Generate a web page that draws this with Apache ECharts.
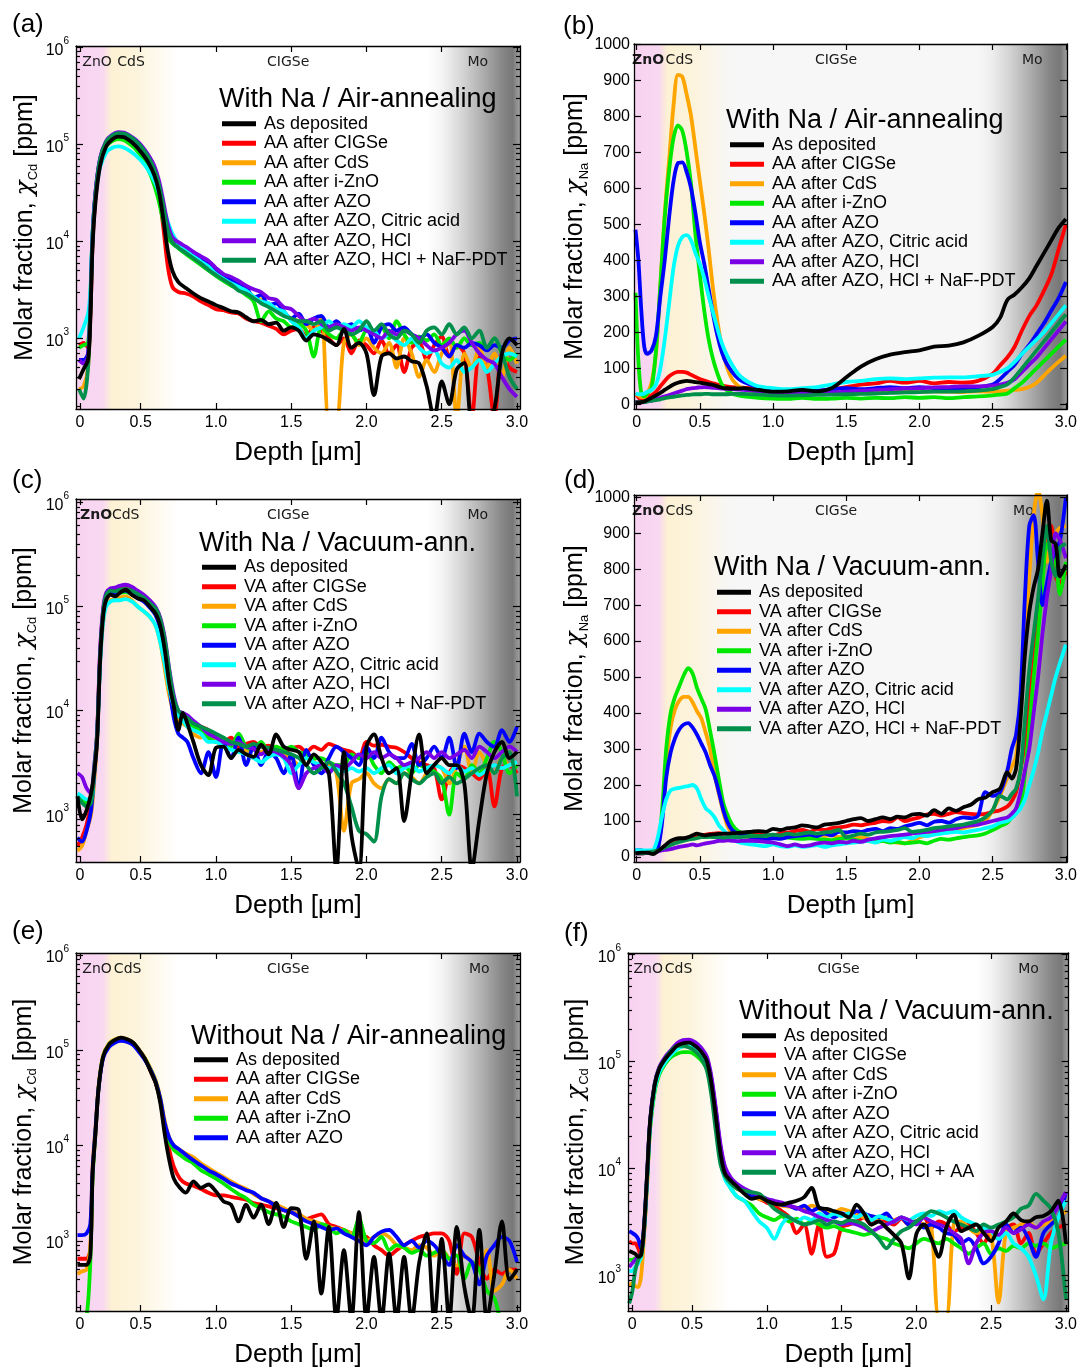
<!DOCTYPE html>
<html><head><meta charset="utf-8">
<script src="https://cdn.jsdelivr.net/npm/echarts@6/dist/echarts.min.js"></script>
<style>html,body{margin:0;padding:0;background:#fff}#c{width:1080px;height:1371px}</style>
</head><body><div id="c"></div>
<script>
// ---------------- tick labels ----------------
const xTickLabels = ['0','0.5','1.0','1.5','2.0','2.5','3.0'];
const logTickLabels = [1e3,1e4,1e5,1e6];
const linTickLabels = [0,100,200,300,400,500,600,700,800,900,1000];

// ---------------- series names ----------------
const namesAA = ['As deposited','AA after CIGSe','AA after CdS','AA after i-ZnO','AA after AZO','AA after AZO, Citric acid','AA after AZO, HCl','AA after AZO, HCl + NaF-PDT'];
const namesVA = ['As deposited','VA after CIGSe','VA after CdS','VA after i-ZnO','VA after AZO','VA after AZO, Citric acid','VA after AZO, HCl','VA after AZO, HCl + NaF-PDT'];
const namesAAnoNa = ['As deposited','AA after CIGSe','AA after CdS','AA after i-ZnO','AA after AZO'];
const namesVAnoNa = ['As deposited','VA after CIGSe','VA after CdS','VA after i-ZnO','VA after AZO','VA after AZO, Citric acid','VA after AZO, HCl','VA after AZO, HCl + AA'];

// ================= Panel (a): Cd, with Na, air-annealing =================
const depthA = [0.09,0.12,0.15,0.165,0.18,0.2,0.23,0.27,0.31,0.35,0.39,0.43,0.47,0.51,0.55,0.59,0.62,0.65,0.68,0.71,0.75,0.8,
0.85,0.9,0.95,1.0,1.05,1.1,1.15,1.2,1.25,1.3,1.35,
1.4,1.45,1.5,1.55,1.6,1.65,1.7,1.75,1.8,1.85,1.9,
1.95,2.0,2.05,2.1,2.15,2.2,2.25,2.3,2.35,2.4,2.45,
2.5,2.55,2.6,2.65,2.7,2.75,2.8,2.85,2.9,2.95,3.0];
const cdA_asDep = [380,480,600,1500,9000,26000,60000,95000,112000,120000,118000,108000,95000,80000,65000,48000,33000,17000,8000,5000,3800,3300,
2900,2600,2400,2200,2050,1900,1850,1650,1500,1550,1400,
1450,1200,1300,1200,950,1100,1050,950,850,1250,800,
900,700,260,650,700,620,650,580,550,320,150,
360,210,480,560,150,150,150,190,700,1000,850];
const cdA_cigse = [850,900,800,1600,9500,28000,65000,100000,118000,125000,122000,112000,100000,85000,68000,50000,32000,14000,5500,3400,3000,2900,
2700,2400,2200,2000,1950,1850,1800,1600,1500,1450,1350,
1250,1100,1200,1250,1050,1300,1200,1000,850,1000,700,
950,850,700,950,700,850,450,800,900,600,850,
1050,650,850,700,150,650,500,150,700,500,450];
const cdA_cds = [300,320,500,1800,11000,32000,70000,105000,120000,127000,125000,115000,102000,88000,70000,52000,36000,22000,13000,10000,8800,7800,
6900,6000,5300,4700,4200,3800,3500,3100,2700,2500,2200,
2000,1800,1600,1500,1400,1200,1600,150,150,900,1100,
850,1000,800,700,900,500,1000,700,400,600,450,
700,900,150,700,500,800,500,700,400,800,550];
const cdA_izno = [800,850,900,2500,12000,30000,65000,95000,108000,113000,110000,100000,88000,72000,55000,38000,26000,16000,11000,9500,8500,7400,
6500,5700,5000,4400,3900,3500,3200,2800,2400,1500,1900,
1600,1500,1300,1400,1200,650,1300,1100,1000,1200,1100,
900,1200,1100,1300,1000,1500,1100,900,1050,950,1100,
850,1000,800,1000,850,900,800,1000,700,600,700];
const cdA_azo = [600,600,700,2200,11500,32000,70000,105000,122000,130000,128000,118000,105000,90000,72000,54000,38000,23000,13500,10500,9500,8500,
7500,6500,5800,4800,4500,4000,3600,3400,2600,2800,2200,
2300,1900,1600,1800,1400,1600,1700,1300,1500,1300,1400,
1200,1300,900,1300,1400,1200,1300,1100,1000,1100,900,
800,650,850,800,900,850,750,850,800,950,1000];
const cdA_citric = [1000,1300,1800,3000,12000,30000,58000,82000,92000,95000,92000,85000,76000,66000,54000,42000,32000,23000,16000,12000,9500,8000,
7000,6200,5500,4600,4100,3700,3400,3100,2700,2400,2300,
2000,1900,1500,1300,1000,1200,1300,1500,1300,1400,1300,
1500,1300,1200,1000,1100,950,850,1000,800,700,750,
550,500,600,450,500,600,450,550,650,700,650];
const cdA_hcl = [600,550,650,2000,11000,33000,72000,108000,125000,133000,132000,122000,110000,95000,78000,60000,43000,26000,15000,11000,9800,8800,
7800,7000,6300,5300,4600,4300,3900,3500,3200,3000,2600,
2500,2100,2000,1700,1500,1600,1400,1300,1400,1300,1200,
1300,1200,1100,1000,1200,1100,1200,1100,1000,850,750,
800,900,1100,1200,900,700,600,550,400,300,250];
const cdA_naf = [300,240,500,1800,10000,31000,70000,106000,122000,130000,129000,120000,107000,92000,74000,55000,39000,23000,13000,9800,8600,7600,
6700,5900,5100,4500,4000,3600,3100,2900,2600,2300,2100,
1900,1700,1600,1500,1500,1400,1500,1200,1300,1200,1100,
1200,1500,1200,1400,1100,1000,1200,1100,900,1200,1300,
1100,1400,1100,1300,1000,1200,800,1000,700,400,300];

// ================= Panel (b): Na, with Na, air-annealing =================
const depthB = [0.06,0.08,0.10,0.12,0.14,0.17,0.20,0.23,0.26,0.29,0.32,0.35,0.38,0.41,0.44,0.47,0.50,0.53,0.56,0.59,0.62,0.65,0.68,0.72,0.76,0.80,0.85,0.90,
1.0,1.1,1.2,1.3,1.4,1.5,1.6,1.7,1.8,1.9,2.0,2.1,2.2,2.3,2.4,
2.5,2.55,2.6,2.65,2.7,2.75,2.8,2.85,2.9,2.95,3.0];
const naB_asDep = [5,5,6,8,12,18,25,32,40,48,55,60,63,65,64,62,60,58,56,54,50,46,45,44,44,45,42,40,
35,36,40,36,45,75,105,125,138,145,150,160,163,172,190,
215,240,290,305,325,350,385,420,455,490,515];
const naB_cigse = [30,20,12,12,18,25,35,50,65,78,86,90,90,88,82,76,70,66,62,58,55,52,50,48,47,46,45,42,
38,36,40,38,42,48,55,58,65,60,65,58,62,60,65,
85,108,130,160,205,245,275,315,360,430,500];
const naB_cds = [30,25,20,20,30,60,140,330,530,680,830,915,910,860,800,710,620,530,430,320,230,160,110,70,52,43,38,36,
34,33,35,33,32,34,35,34,36,35,34,36,35,34,36,
35,36,38,40,42,48,60,80,100,118,135];
const naB_izno = [310,120,30,22,30,45,150,330,520,650,740,775,760,700,610,470,360,260,180,125,85,55,40,30,25,22,20,18,
16,15,18,15,16,18,16,18,17,20,18,20,17,20,22,
25,27,30,45,60,80,100,120,140,160,180];
const naB_azo = [485,400,260,160,140,150,190,300,400,520,620,670,672,645,600,530,450,390,320,250,190,145,115,90,72,62,54,48,
42,38,40,38,42,45,42,45,48,45,48,45,42,45,48,
55,70,90,110,140,165,195,225,260,295,340];
const naB_citric = [30,28,28,30,35,40,55,100,180,280,380,440,465,470,455,420,390,350,300,255,210,170,140,110,85,70,58,50,
45,42,45,48,55,62,65,70,72,70,72,74,75,75,78,
82,90,100,118,140,160,180,200,225,250,275];
const naB_hcl = [5,5,5,6,8,10,15,18,22,26,30,34,38,42,44,46,47,48,47,46,45,44,43,42,41,40,38,36,
33,30,30,32,33,35,38,40,42,44,45,47,48,50,50,
52,55,60,70,90,110,130,155,180,205,230];
const naB_naf = [5,5,6,6,8,10,12,14,17,19,21,23,25,26,27,28,28,29,29,28,28,28,28,29,29,29,28,27,
25,24,25,26,27,28,29,30,32,33,34,35,35,36,38,
42,48,55,75,100,125,150,175,200,225,250];

// ================= Panel (c): Cd, with Na, vacuum-annealing =================
const depthC = [0.08,0.11,0.14,0.17,0.19,0.21,0.23,0.25,0.27,0.30,0.33,0.36,0.40,0.44,0.48,0.52,0.56,0.60,0.63,0.66,0.69,0.72,0.75,0.78,0.81,
0.85,0.9,0.95,1.0,1.05,1.1,1.15,1.2,1.25,1.3,1.35,
1.4,1.45,1.5,1.55,1.6,1.65,1.7,1.75,1.8,1.85,1.9,
1.95,2.0,2.05,2.1,2.15,2.2,2.25,2.3,2.35,2.4,2.45,
2.5,2.55,2.6,2.65,2.7,2.75,2.8,2.85,2.9,2.95,3.0];
const cdC_asDep = [1500,900,1100,1600,2500,5000,30000,80000,115000,130000,125000,135000,145000,130000,120000,115000,100000,85000,65000,38000,18000,11000,6500,9500,7500,
5000,3000,2400,4400,4500,3500,4200,3800,3600,4700,3800,
5900,4500,4200,4000,3000,3800,3200,2500,300,4000,640,
300,4500,5900,3500,2500,2800,870,2500,5900,2500,3000,
3500,3000,3000,2000,300,900,2500,4000,5000,3500,4000];
const cdC_cigse = [500,600,800,1300,2500,6000,35000,90000,130000,145000,145000,150000,152000,145000,135000,125000,110000,95000,75000,45000,22000,12000,9500,8500,8000,
7500,7000,6500,5500,5000,5500,4500,4800,5000,4500,4600,
4200,4000,4300,4500,4000,4500,4200,4800,4500,4200,4000,
3500,5000,4600,4700,4500,4400,4000,3500,3200,3000,2800,
1400,2500,3000,2800,2500,2200,2800,1200,2800,3000,2500];
const cdC_cds = [450,500,700,1000,2000,5000,28000,70000,105000,115000,118000,122000,125000,115000,100000,90000,80000,65000,45000,25000,14000,9500,8000,7500,7000,
6000,5500,6000,5000,4800,5000,4000,4200,3500,4000,4200,
4500,3800,3500,3000,3500,3300,2800,3000,2500,700,2000,
2200,2500,2000,1800,2200,2000,2500,2300,2000,2500,3000,
2800,2000,3000,4500,2500,4000,3000,2500,3500,3000,3000];
const cdC_izno = [1500,1400,1300,1500,2800,6000,32000,85000,120000,132000,130000,135000,138000,132000,122000,115000,102000,88000,68000,42000,21000,12000,9000,8500,8000,
7000,6500,5500,5000,5500,4500,6000,4500,4200,5000,4000,
4500,4200,4500,4000,3800,3500,3500,3200,3000,3000,3800,
3500,4000,3000,2500,3200,2800,3000,2500,3000,2800,2600,
2200,1000,2500,2200,3000,2500,3500,5000,4000,2500,3000];
const cdC_azo = [600,550,700,1100,2300,5500,30000,85000,125000,138000,135000,140000,142000,132000,120000,112000,98000,82000,62000,38000,17000,8500,6000,5500,5000,
3500,2500,4000,2300,5000,3500,5500,3000,4500,3000,4000,
3500,2500,3800,1800,4200,3000,2500,3500,4500,4000,3500,
3000,4500,3500,5500,4000,3500,3500,4800,3000,3500,4500,
3500,5500,2800,6000,4000,6000,5000,4500,6500,5000,7000];
const cdC_citric = [1600,1500,1400,1400,2600,5500,28000,70000,100000,112000,115000,115000,118000,112000,100000,90000,80000,65000,45000,28000,16000,11000,9000,8000,7000,
6500,6000,5000,5000,4500,4200,4000,3800,3500,3200,3600,
3800,3500,2500,3000,3500,3200,3000,2800,2800,2600,2800,
2600,2800,2500,2800,3000,2500,2800,3000,2600,2800,3000,
2800,2500,3000,2600,2800,2400,2700,3000,2800,3000,3200];
const cdC_hcl = [2500,2300,1800,1600,2800,6000,38000,95000,135000,150000,152000,158000,162000,155000,142000,130000,115000,98000,78000,50000,25000,14000,10000,9500,9000,
8000,7000,6000,5500,5000,4800,5000,4500,4300,3800,4200,
4000,3600,3000,1800,2500,2800,3000,2500,3000,2800,3200,
3800,3500,4000,3500,3800,3500,3000,3200,3500,4000,3500,
4000,3500,3800,4200,3500,4500,4000,3500,4000,4500,4000];
const cdC_naf = [1500,1300,1200,1300,2500,5500,33000,88000,128000,142000,140000,145000,148000,142000,132000,122000,108000,95000,75000,48000,24000,13000,10000,9000,8500,
7500,7000,6500,6000,5500,5000,4800,4500,4800,4500,4400,
4200,4000,3800,3500,3000,2500,2800,3200,2600,2000,1200,
700,650,550,1500,2200,2000,2500,2200,2000,2300,2500,
2000,2300,2000,2200,2500,2800,3000,2500,3500,4000,1500];

// ================= Panel (d): Na, with Na, vacuum-annealing =================
const depthD = [0.06,0.10,0.14,0.18,0.21,0.24,0.27,0.30,0.33,0.36,0.39,0.42,0.45,0.48,0.51,0.54,0.57,0.60,0.63,0.66,0.69,0.72,0.76,0.80,0.85,
0.9,0.95,1.0,1.05,1.1,1.15,1.2,1.25,1.3,1.35,1.4,1.45,1.5,1.55,1.6,1.65,1.7,1.75,1.8,1.85,1.9,1.95,2.0,2.05,2.1,2.15,2.2,2.25,2.3,2.35,2.4,
2.45,2.5,2.55,2.6,2.63,2.66,2.69,2.72,2.75,2.78,2.81,2.84,2.87,2.9,2.93,2.96,3.0];
const naD_asDep = [10,12,12,8,15,25,35,45,50,52,52,55,60,65,62,60,62,63,64,65,65,66,67,68,70,
72,70,78,75,80,82,88,85,82,90,92,95,100,105,108,100,105,110,105,112,110,118,120,115,130,120,135,128,138,145,160,
165,180,190,235,218,246,380,560,680,750,800,900,990,880,870,780,812];
const naD_cigse = [10,10,12,15,18,22,28,35,40,45,48,50,55,58,60,62,64,65,66,65,65,64,64,65,63,
62,60,60,65,68,72,75,70,78,75,80,82,85,90,88,92,95,100,98,110,100,105,110,118,120,115,120,125,122,120,118,
120,125,130,140,155,180,240,320,430,540,660,780,890,920,780,760,794];
const naD_cds = [15,15,15,15,20,100,260,360,410,435,445,445,430,405,385,345,300,230,175,125,85,68,60,58,55,
55,55,55,58,60,58,62,60,65,58,60,55,58,52,55,50,48,45,42,40,38,45,55,60,65,68,70,75,80,85,90,
100,130,170,220,250,280,420,600,780,950,1020,950,820,870,900,915,920];
const naD_izno = [15,15,15,15,20,120,300,400,445,475,505,525,510,470,440,410,350,285,215,150,115,90,72,65,60,
58,56,55,57,54,52,50,52,50,48,47,50,52,48,45,44,42,45,40,42,38,40,42,38,45,50,48,52,55,58,60,
65,75,85,95,110,130,140,230,360,500,620,760,870,850,820,730,820];
const naD_azo = [20,18,15,15,20,90,220,290,330,355,368,372,360,340,315,290,255,225,180,130,95,75,65,60,55,
50,48,52,50,55,58,60,62,58,65,60,70,68,72,70,75,78,72,80,78,85,90,95,88,98,100,95,105,110,108,115,
180,170,180,240,300,340,450,720,920,950,820,700,760,820,850,880,1000];
const naD_citric = [20,18,18,20,50,110,160,185,190,192,195,197,200,190,160,135,125,110,88,75,62,50,42,38,35,
32,30,35,30,28,32,28,30,33,28,32,35,38,40,42,45,40,48,45,50,55,52,60,58,62,65,68,70,68,72,75,
80,85,95,100,108,120,135,160,200,240,290,350,400,450,500,540,590];
const naD_hcl = [10,10,12,12,15,18,20,22,25,28,30,32,35,32,35,38,40,42,45,45,46,45,44,45,45,
44,42,40,35,30,35,30,32,38,40,38,42,40,45,42,48,52,55,58,60,62,65,68,70,72,75,78,80,85,88,90,
95,100,105,110,120,135,180,240,300,400,500,620,720,800,900,880,830];
const naD_naf = [10,10,12,15,18,22,28,33,38,42,45,48,50,52,55,55,56,55,55,54,55,56,55,56,58,
58,60,62,60,65,62,65,68,65,68,70,75,55,60,65,62,68,70,72,75,80,70,72,75,80,82,85,88,90,95,100,
110,130,170,160,175,190,240,380,520,620,720,830,920,820,780,860,870];

// ================= Panel (e): Cd, without Na, air-annealing =================
const depthE = [0.08,0.11,0.14,0.165,0.18,0.20,0.22,0.25,0.29,0.33,0.37,0.41,0.45,0.49,0.53,0.57,0.60,0.63,0.66,0.69,0.72,0.76,0.80,
0.85,0.9,0.95,1.0,1.05,1.1,1.15,1.2,1.25,1.3,1.35,
1.4,1.45,1.5,1.55,1.6,1.65,1.7,1.75,1.8,1.85,1.9,
1.95,2.0,2.05,2.1,2.15,2.2,2.25,2.3,2.35,2.4,2.45,
2.5,2.55,2.6,2.65,2.7,2.75,2.8,2.85,2.9,2.95,3.0];
const cdE_asDep = [560,560,560,700,5000,14000,40000,85000,115000,128000,135000,130000,120000,100000,80000,58000,45000,28000,13000,7000,4500,3600,3200,
4200,3600,3900,3300,2600,2400,1600,2400,1750,2400,1500,
2500,1400,2200,2100,650,1600,280,1400,150,800,150,
2000,150,680,150,740,150,680,150,590,1200,150,
1050,150,1400,330,150,1300,150,450,1600,390,500];
const cdE_cigse = [650,650,650,800,5000,14000,40000,85000,113000,126000,132000,128000,118000,98000,80000,58000,45000,30000,15000,9000,6000,4500,4000,
3800,3500,3200,3000,3000,2900,2800,2700,2500,2400,2300,
2200,2100,2000,1900,1700,1800,1900,1500,1400,1300,1200,
1150,1100,900,800,700,800,900,1000,1100,1150,1200,
1200,1000,450,1200,1100,600,400,500,450,500,500];
const cdE_cds = [450,480,500,900,6000,16000,42000,88000,118000,130000,135000,130000,120000,100000,82000,62000,48000,32000,18000,12000,10000,9000,8200,
7500,6500,5800,5200,4700,4200,3800,3500,3100,2800,2600,
2400,2200,2000,1900,1700,1600,1500,1400,1350,1300,1200,
1150,1000,1100,1200,1100,900,850,800,900,850,700,
800,650,550,700,600,500,800,300,350,500,400];
const cdE_izno = [150,150,160,600,4500,14000,40000,85000,115000,128000,132000,128000,118000,98000,80000,60000,46000,30000,16000,11000,9000,8000,7200,
6500,5500,5000,4500,4000,3500,3100,2800,2400,2200,2000,
1900,1800,1600,1500,1400,1300,1500,1400,1200,1300,1100,
1700,1000,950,1100,800,900,850,750,800,700,750,
800,650,700,400,600,500,300,250,150,150,150];
const cdE_azo = [1150,1150,1200,1500,5500,15000,40000,82000,108000,120000,125000,122000,113000,95000,78000,60000,46000,31000,17000,12000,10000,9000,8000,
7000,6200,5500,5000,4500,4000,3700,3400,3200,2800,2600,
2300,2100,2000,1800,1600,1500,1400,1300,1350,1200,1100,
1000,900,1100,1250,1300,1100,900,1000,850,1000,900,
700,560,900,700,600,350,700,900,1100,1000,600];

// ================= Panel (f): Cd, without Na, vacuum-annealing =================
const depthF = [0.08,0.10,0.12,0.14,0.16,0.18,0.20,0.22,0.25,0.28,0.32,0.36,0.40,0.44,0.48,0.52,0.56,0.60,0.63,0.66,0.69,0.72,0.76,0.80,
0.85,0.9,0.95,1.0,1.05,1.1,1.15,1.2,1.25,1.3,1.35,
1.4,1.45,1.5,1.55,1.6,1.65,1.7,1.75,1.8,1.85,1.9,
1.95,2.0,2.05,2.1,2.15,2.2,2.25,2.3,2.35,2.4,2.45,
2.5,2.55,2.6,2.65,2.7,2.75,2.8,2.85,2.9,2.95,3.0];
const cdF_asDep = [1700,1650,1600,1500,1550,3000,9000,28000,60000,85000,105000,122000,140000,148000,150000,140000,124000,100000,62000,30000,14000,9000,7700,6800,
5800,5200,5400,5000,4700,4600,4800,5000,5400,6600,4300,
4200,4000,3800,3500,4600,3800,3000,3200,2800,2400,2000,
940,2450,3000,2200,1500,2800,3700,2600,2800,3000,2500,
2100,2800,3200,3800,3300,3200,3500,3600,4000,5000,2000];
const cdF_cigse = [2100,2000,2000,1800,1500,2600,8000,26000,58000,82000,104000,122000,140000,147000,148000,140000,124000,100000,62000,30000,14000,9000,7500,6500,
6000,5500,5200,4800,4500,4000,3500,2500,3000,1600,3000,
1500,1600,2800,3000,3200,3500,3000,3500,3200,3000,3400,
3000,3200,3500,2800,3200,3000,2600,2800,3000,2500,2000,
2500,2200,2800,3000,2000,2500,1600,2000,2500,2800,3000];
const cdF_cds = [800,850,800,780,1000,2500,7000,24000,55000,80000,100000,118000,132000,138000,140000,135000,118000,95000,60000,28000,13000,9000,7300,6500,
6000,5600,5200,5000,4800,4500,4400,4300,4200,4500,4200,
4000,3900,4200,4000,3800,3500,3600,3400,3500,3300,3500,
3300,3200,3000,2800,420,420,3000,3200,2800,2500,2600,
2400,560,2600,2800,3000,3200,2800,3000,3200,3500,4000];
const cdF_izno = [1400,1400,1450,1450,1500,2800,8000,24000,52000,75000,95000,110000,118000,122000,122000,116000,103000,85000,55000,27000,13000,8500,6500,5500,
5000,4500,3800,3500,3300,3600,3200,3400,3000,3200,3000,
2800,2900,2700,2600,2500,2400,2500,2300,2200,2000,1900,
1800,2000,2200,2100,2000,2200,2000,1800,1600,1800,2000,
1600,1800,1700,1900,1800,2000,1900,2000,1800,1900,2000];
const cdF_azo = [2600,2500,2400,2200,1800,3000,8500,27000,60000,85000,106000,125000,142000,150000,152000,146000,130000,105000,68000,34000,16000,10000,8000,7000,
6000,5500,5500,5200,4800,4600,4500,4200,4500,4000,4300,
3800,3500,3800,3600,4000,3800,3600,3500,3800,3200,3500,
3000,3200,2800,3000,2800,2500,2400,2000,2200,1800,1300,
1500,2000,3000,2500,2800,2200,1500,2500,3000,3500,6000];
const cdF_citric = [1100,1100,1200,1300,1500,2800,8000,25000,55000,78000,98000,115000,130000,138000,140000,132000,115000,92000,58000,26000,12000,8000,6500,5500,
5000,4000,3200,2800,2200,3000,3500,3200,3500,3300,3800,
3500,3800,3600,3800,3500,3800,3300,3600,3400,3200,3500,
3300,3600,3800,3600,4000,3800,4000,3500,3200,3000,2800,
2600,2200,2500,2000,1800,1500,1000,600,2000,3500,5000];
const cdF_hcl = [1200,1300,1400,1500,1600,2800,9000,28000,62000,88000,110000,128000,148000,158000,160000,152000,135000,110000,72000,36000,17000,10500,8200,7200,
6500,6000,5600,5200,5000,4800,4500,4300,4000,3800,3500,
3300,3200,3000,3100,3000,2800,2600,2800,3000,3200,3500,
3300,3000,3500,3200,3000,2800,2500,2200,1300,2000,2500,
2600,2400,2800,2500,2700,3000,2800,3200,3500,4500,6000];
const cdF_aa = [550,700,1100,1400,1600,2700,8500,27000,60000,85000,106000,125000,140000,140000,135000,125000,108000,82000,48000,22000,11000,8500,7200,6500,
6200,6000,5800,5000,4200,3800,3500,3200,3000,3100,3300,
3000,3200,3100,3300,3200,3000,2600,2200,1800,2200,2600,
2800,3200,3600,4000,3800,3500,3200,3000,2800,2600,3000,
2800,3000,3200,3500,4200,4500,5800,5000,4200,2500,600];

// ---------------- styling / layout ----------------
const SERIES_COLORS = ['#000000','#ff0000','#ffa500','#00e800','#0000ff','#00ffff','#7a00e6','#00904c'];
const FONT = "'Liberation Sans', Arial, sans-serif";
const LAYER_FONT = "'DejaVu Sans', Verdana, sans-serif";

const PANELS = [
  {grid:[76,46,444,363], xr:[0.07,3.02], x0:0.097, log:true, yr:[187,1.03e6], elem:'Cd', bg:'#ffffff',
   names:namesAA, depth:depthA, vals:[cdA_asDep,cdA_cigse,cdA_cds,cdA_izno,cdA_azo,cdA_citric,cdA_hcl,cdA_naf],
   title:'With Na / Air-annealing', tpos:[219,86], lpos:[222,114.5], letter:'(a)', lp:[12,10], yGap:36,
   layer:[0.21,0.436,1.48,2.74], znoBold:false},
  {grid:[634,44,434,365], xr:[0.05,3.009], x0:0.068, log:false, yr:[-13,1001], elem:'Na', bg:'#f7f7f7',
   names:namesAA, depth:depthB, vals:[naB_asDep,naB_cigse,naB_cds,naB_izno,naB_azo,naB_citric,naB_hcl,naB_naf],
   title:'With Na / Air-annealing', tpos:[726,107], lpos:[730,135.5], letter:'(b)', lp:[563,12], yGap:42,
   layer:[0.146,0.36,1.43,2.77], znoBold:true},
  {grid:[76,499,444,363], xr:[0.07,3.02], x0:0.097, log:true, yr:[351,1.08e6], elem:'Cd', bg:'#ffffff',
   names:namesVA, depth:depthC, vals:[cdC_asDep,cdC_cigse,cdC_cds,cdC_izno,cdC_azo,cdC_citric,cdC_hcl,cdC_naf],
   title:'With Na / Vacuum-ann.', tpos:[199,530], lpos:[202,558], letter:'(c)', lp:[12,466], yGap:37,
   layer:[0.203,0.40,1.48,2.74], znoBold:true},
  {grid:[634,495,434,367], xr:[0.05,3.009], x0:0.068, log:false, yr:[-14,1006], elem:'Na', bg:'#f7f7f7',
   names:namesVA, depth:depthD, vals:[naD_asDep,naD_cigse,naD_cds,naD_izno,naD_azo,naD_citric,naD_hcl,naD_naf],
   title:'With Na / Vacuum-ann.', tpos:[714,554], lpos:[717,583], letter:'(d)', lp:[564,466], yGap:43,
   layer:[0.146,0.36,1.43,2.71], znoBold:true},
  {grid:[76,953,444,361], xr:[0.07,3.02], x0:0.097, log:true, yr:[184,1.044e6], elem:'Cd', bg:'#ffffff',
   names:namesAAnoNa, depth:depthE, vals:[cdE_asDep,cdE_cigse,cdE_cds,cdE_izno,cdE_azo],
   title:'Without Na / Air-annealing', tpos:[191,1023], lpos:[194,1050.5], letter:'(e)', lp:[12,917], yGap:37,
   layer:[0.21,0.413,1.48,2.75], znoBold:false},
  {grid:[628,953,444,361], xr:[0.072,3.019], x0:0.10, log:true, yr:[467,1.03e6], elem:'Cd', bg:'#ffffff',
   names:namesVAnoNa, depth:depthF, vals:[cdF_asDep,cdF_cigse,cdF_cds,cdF_izno,cdF_azo,cdF_citric,cdF_hcl,cdF_aa],
   title:'Without Na / Vacuum-ann.', tpos:[739,998], lpos:[742,1026.5], letter:'(f)', lp:[564,919], yGap:37,
   layer:[0.207,0.41,1.48,2.75], znoBold:false}
];

const PINK = [[0,'rgba(248,208,240,0.95)'],[0.75,'rgba(248,212,241,0.9)'],[1,'rgba(248,212,241,0)']];
const YELLOW = [[0,'rgba(253,241,210,0)'],[0.12,'rgba(253,241,210,1)'],[0.5,'rgba(253,243,218,0.9)'],[1,'rgba(253,245,225,0)']];
const GRAY = [[0,'rgba(105,105,105,0)'],[0.16,'rgba(105,105,105,0.07)'],[0.36,'rgba(105,105,105,0.26)'],[0.57,'rgba(105,105,105,0.5)'],[0.79,'rgba(105,105,105,0.78)'],[0.92,'rgba(105,105,105,0.9)'],[1,'rgba(105,105,105,0.62)']];
function grad(stops){ return {type:'linear',x:0,y:0,x2:1,y2:0,colorStops:stops.map(s=>({offset:s[0],color:s[1]}))}; }

const minorLog = [];
[100,1000,10000,100000].forEach(d => { for (let k = 2; k < 10; k++) minorLog.push(k*d); });

const grids=[], xAxes=[], yAxes=[], series=[], legends=[], titles=[];
const tickStyle = (len, show) => ({show:show!==false, inside:true, length:len, lineStyle:{color:'#000', width:1.2}});
const frameLine = {show:true, onZero:false, lineStyle:{color:'#000', width:1.3}};

PANELS.forEach((p, i) => {
  grids.push({left:p.grid[0], top:p.grid[1], width:p.grid[2], height:p.grid[3], show:true, backgroundColor:p.bg, borderWidth:0, containLabel:false});
  const xTicks = xTickLabels.map(l => l === '0' ? p.x0 : parseFloat(l));
  const xFmt = v => { let b = 0; xTicks.forEach((t, j) => { if (Math.abs(t - v) < Math.abs(xTicks[b] - v)) b = j; }); return xTickLabels[b]; };
  const xBase = {gridIndex:i, type:'value', min:p.xr[0], max:p.xr[1], splitLine:{show:false}, z:10};
  xAxes.push(Object.assign({}, xBase, {position:'bottom', axisLine:frameLine, axisTick:Object.assign(tickStyle(6), {customValues:xTicks}),
    axisLabel:{customValues:xTicks, formatter:xFmt, fontFamily:FONT, fontSize:16, color:'#000', margin:6},
    name:'Depth [μm]', nameLocation:'middle', nameGap:29, nameTextStyle:{fontFamily:FONT, fontSize:26, color:'#000', lineHeight:30}}));
  xAxes.push(Object.assign({}, xBase, {position:'top', axisLine:frameLine, axisTick:Object.assign(tickStyle(6), {customValues:xTicks}), axisLabel:{show:false}}));

  const yType = p.log ? 'log' : 'value';
  const major = p.log ? logTickLabels : linTickLabels;
  const yFmt = p.log ? (v => '{b|10}{s|' + Math.round(Math.log10(v)) + '}') : (v => String(v));
  const yBase = {gridIndex:i, type:yType, min:p.yr[0], max:p.yr[1], splitLine:{show:false}, z:10};
  if (p.log) yBase.logBase = 10;
  yAxes.push(Object.assign({}, yBase, {position:'left', axisLine:frameLine, axisTick:Object.assign(tickStyle(7), {customValues:major}),
    axisLabel:{customValues:major, formatter:yFmt, fontFamily:FONT, fontSize:16, color:'#000', margin:p.log?7:4,
      rich:{b:{fontFamily:FONT, fontSize:16, color:'#000', padding:[6,0,0,0]}, s:{fontFamily:FONT, fontSize:10, color:'#000', verticalAlign:'top'}}},
    name:'{t|Molar fraction, }{c|χ}{u|' + p.elem + '}{t| [ppm]}', nameLocation:'middle', nameGap:p.yGap,
    nameTextStyle:{fontFamily:FONT, fontSize:25, color:'#000', lineHeight:30,
      rich:{t:{fontFamily:FONT, fontSize:25, color:'#000', lineHeight:30},
            c:{fontFamily:"'DejaVu Serif', serif", fontStyle:'italic', fontSize:25, color:'#000', lineHeight:30},
            u:{fontFamily:FONT, fontSize:13, color:'#000', lineHeight:13, verticalAlign:'bottom'}}}}));
  yAxes.push(Object.assign({}, yBase, {position:'left', axisLine:{show:false, onZero:false}, axisTick:Object.assign(tickStyle(4, p.log), {customValues:p.log?minorLog:major}), axisLabel:{show:false}}));
  yAxes.push(Object.assign({}, yBase, {position:'right', axisLine:frameLine, axisTick:Object.assign(tickStyle(7), {customValues:major}), axisLabel:{show:false}}));
  yAxes.push(Object.assign({}, yBase, {position:'right', axisLine:{show:false, onZero:false}, axisTick:Object.assign(tickStyle(4, p.log), {customValues:p.log?minorLog:major}), axisLabel:{show:false}}));

  // background layer bands + layer labels
  const lab = (name, c, bold) => [{name:name, xAxis:c-0.02, itemStyle:{color:'rgba(0,0,0,0)'},
      label:{show:true, position:'insideTop', distance:9, fontFamily:LAYER_FONT, fontSize:14, color:'#1a1a1a', fontWeight:bold?'bold':'normal'}}, {xAxis:c+0.02}];
  series.push({type:'line', xAxisIndex:2*i, yAxisIndex:4*i, data:[], silent:true, z:1,
    markArea:{silent:true, label:{show:false}, data:[
      [{xAxis:p.x0+0.12, itemStyle:{color:grad(YELLOW)}}, {xAxis:p.x0+0.66}],
      [{xAxis:p.xr[0], itemStyle:{color:grad(PINK)}}, {xAxis:p.x0+0.21}],
      [{xAxis:2.40, itemStyle:{color:grad(GRAY)}}, {xAxis:p.xr[1]}],
      lab('ZnO', p.layer[0], p.znoBold), lab('CdS', p.layer[1], false), lab('CIGSe', p.layer[2], false), lab('Mo', p.layer[3], false)
    ]}});

  const order = [1,2,3,4,5,6,7,0].filter(k => k < p.names.length);
  order.forEach(k => {
    series.push({type:'line', name:p.names[k], xAxisIndex:2*i, yAxisIndex:4*i,
      data:p.depth.map((d, j) => [d, p.vals[k][j]]),
      showSymbol:false, symbol:'none', smooth:0.3, clip:true, z:3,
      lineStyle:{width:3.8, color:SERIES_COLORS[k]}, itemStyle:{color:SERIES_COLORS[k]}});
  });

  legends.push({left:p.lpos[0], top:p.lpos[1], orient:'vertical', icon:'rect', itemWidth:34, itemHeight:5, itemGap:1, padding:0,
    selectedMode:false, data:p.names, textStyle:{fontFamily:FONT, fontSize:18, color:'#000', lineHeight:18.5, padding:[0,0,0,3]}});
  titles.push({text:p.title, left:p.tpos[0], top:p.tpos[1], padding:0, textStyle:{fontFamily:FONT, fontSize:27, fontWeight:'normal', color:'#000', lineHeight:28}});
  titles.push({text:p.letter, left:p.lp[0], top:p.lp[1], padding:0, textStyle:{fontFamily:FONT, fontSize:26, fontWeight:'normal', color:'#000', lineHeight:30}});
});

const chart = echarts.init(document.getElementById('c'), null, {renderer:'canvas', width:1080, height:1371});
chart.setOption({animation:false, backgroundColor:'#ffffff', title:titles, legend:legends, grid:grids, xAxis:xAxes, yAxis:yAxes, series:series});
</script></body></html>
